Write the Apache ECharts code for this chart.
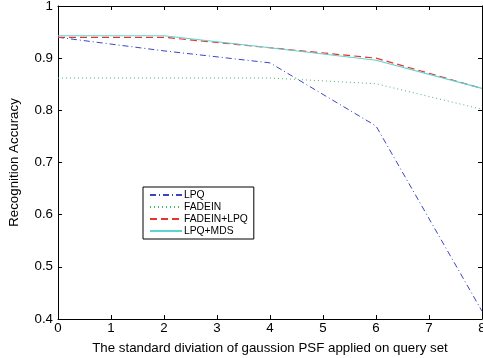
<!DOCTYPE html>
<html>
<head>
<meta charset="utf-8">
<script src="https://cdn.jsdelivr.net/npm/echarts@6/dist/echarts.min.js"></script>
<style>
  html, body { margin: 0; padding: 0; background: #fff; }
  #chart { width: 483px; height: 358px; }
</style>
</head>
<body>
<div id="chart"></div>
<script>
// sigma of the gaussian PSF
const sigma = [0, 2, 4, 6, 8];

const lpq       = [0.940, 0.914, 0.891, 0.770, 0.415];
const fadein    = [0.862, 0.862, 0.862, 0.851, 0.802];
const fadeinLpq = [0.940, 0.940, 0.920, 0.900, 0.842];
const lpqMds    = [0.943, 0.943, 0.920, 0.896, 0.842];

const font = 'Liberation Sans, Arial, Helvetica, sans-serif';

const pairs = ys => sigma.map((x, i) => [x, ys[i]]);

const boxAxis = {
  axisLine: { show: true, onZero: false, lineStyle: { color: '#000', width: 1 } },
  axisTick: { show: true, inside: true, length: 4, lineStyle: { color: '#000' } },
  splitLine: { show: false },
};

const chart = echarts.init(document.getElementById('chart'), null, { renderer: 'canvas' });

chart.setOption({
  animation: false,
  backgroundColor: '#fff',
  textStyle: { fontFamily: font },
  grid: { left: 58, right: 1, top: 6, bottom: 39, containLabel: false, outerBoundsMode: 'none' },
  xAxis: [
    {
      type: 'value', min: 0, max: 8, interval: 1, position: 'bottom',
      ...boxAxis,
      axisLabel: { color: '#000', fontSize: 13.3, margin: 3, fontFamily: font },
      name: 'The standard diviation of gaussion PSF applied on query set',
      nameLocation: 'middle', nameGap: 23,
      nameTextStyle: { color: '#000', fontSize: 13.3, fontFamily: font },
    },
    {
      type: 'value', min: 0, max: 8, interval: 1, position: 'top',
      ...boxAxis, axisLabel: { show: false },
    },
  ],
  yAxis: [
    {
      type: 'value', min: 0.4, max: 1, interval: 0.1, position: 'left',
      ...boxAxis,
      axisLabel: {
        color: '#000', fontSize: 13.3, margin: 5, fontFamily: font,
        formatter: v => (Math.round(v * 10) / 10).toString(),
      },
      name: 'Recognition Accuracy',
      nameLocation: 'middle', nameGap: 37, nameRotate: 90,
      nameTextStyle: { color: '#000', fontSize: 13.3, fontFamily: font },
    },
    {
      type: 'value', min: 0.4, max: 1, interval: 0.1, position: 'right',
      ...boxAxis, axisLabel: { show: false },
    },
  ],
  legend: {
    orient: 'vertical',
    left: 143, top: 187,
    width: 108,
    padding: [3, 6, 3, 6],
    itemGap: 2,
    itemWidth: 32, itemHeight: 12,
    borderColor: '#000', borderWidth: 1,
    backgroundColor: '#fff',
    itemStyle: { opacity: 0 },
    textStyle: { color: '#000', fontSize: 10.3, fontFamily: font, padding: [0, 0, 0, -3] },
    data: ['LPQ', 'FADEIN', 'FADEIN+LPQ', 'LPQ+MDS'],
  },
  series: [
    {
      name: 'LPQ', type: 'line', data: pairs(lpq), symbol: 'none',
      lineStyle: { color: '#3b45c4', width: 1, type: [6, 3, 1, 3] },
      itemStyle: { color: '#3b45c4' },
    },
    {
      name: 'FADEIN', type: 'line', data: pairs(fadein), symbol: 'none',
      lineStyle: { color: '#44b870', width: 1, type: [1, 3] },
      itemStyle: { color: '#44b870' },
    },
    {
      name: 'FADEIN+LPQ', type: 'line', data: pairs(fadeinLpq), symbol: 'none',
      lineStyle: { color: '#e8352c', width: 1.2, type: [7, 4] },
      itemStyle: { color: '#e8352c' },
    },
    {
      name: 'LPQ+MDS', type: 'line', data: pairs(lpqMds), symbol: 'none',
      lineStyle: { color: '#5fd3d3', width: 1.2, type: 'solid' },
      itemStyle: { color: '#5fd3d3' },
    },
  ],
});
</script>
</body>
</html>
